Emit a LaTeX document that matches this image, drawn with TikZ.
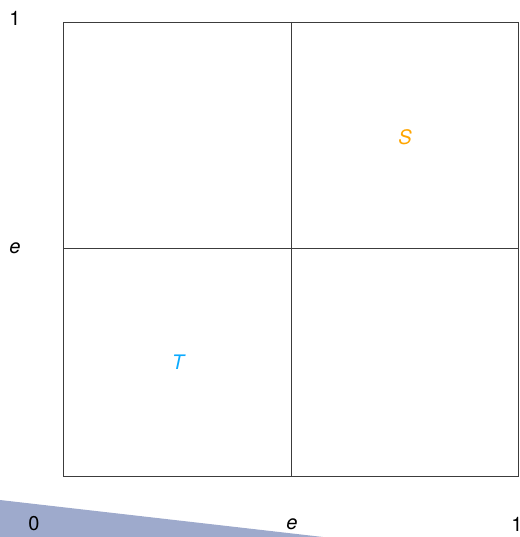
\documentclass[tikz,border=0pt]{standalone}
\usepackage{fontspec}
\setmainfont{TeX Gyre Heros}
\usepackage{tikz}
\usetikzlibrary{positioning}
\definecolor{sqline}{RGB}{60,60,60}
\definecolor{wedgeblue}{RGB}{158,170,204}
\definecolor{sorange}{RGB}{255,165,0}
\definecolor{tblue}{RGB}{10,170,255}

\begin{document}
\begin{tikzpicture}[x=1pt,y=-1pt,font=\fontsize{20}{22}\selectfont,
    every node/.style={align=center,inner sep=0pt},
    cell/.style={draw=sqline,line width=0.9pt}]
    \useasboundingbox (0,0) rectangle (519,537);
    \fill[wedgeblue] (0,500) -- (323,537) -- (0,537) -- cycle;
    % unit square, split at e
    \draw[cell] (63,22) rectangle (518,476);
    \draw[cell] (291,22) -- (291,476);
    \draw[cell] (63,248) -- (518,248);
    % axis labels
    \node (ytop) at (15,18) {1};
    \node (ymid) at (15,248) {\itshape e};
    \node (xzero) at (34,524) {0};
    \node (xmid) at (292,524) {\itshape e};
    \node (xone) at (517,524) {1};
    % regions
    \node[text=sorange] (sreg) at (405,137) {\itshape S};
    \node[text=tblue] (treg) at (178,362) {\itshape T};
  \end{tikzpicture}
\end{document}
